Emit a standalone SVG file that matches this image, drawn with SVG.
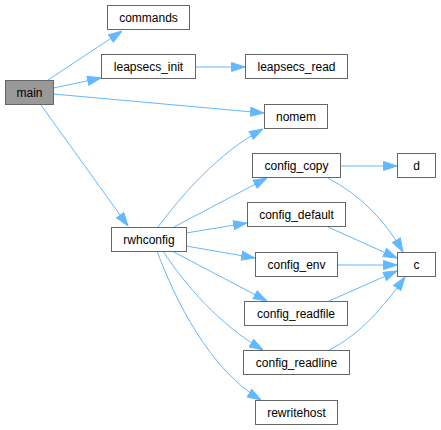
<svg xmlns="http://www.w3.org/2000/svg" width="441" height="430" viewBox="0 0 441 430">
<defs>
<marker id="ah" viewBox="0 0 14 10" refX="14" refY="5" markerWidth="14" markerHeight="10" markerUnits="userSpaceOnUse" orient="auto">
<path d="M0.5,0.5 L14,5 L0.5,9.5 z" fill="#63b8ff" stroke="#63b8ff" stroke-width="1"/>
</marker>
</defs>
<style>
.n rect{fill:#fff;stroke:#666;stroke-width:1}
.n text{font-family:"Liberation Sans",Arial,sans-serif;font-size:12px;fill:#000;text-anchor:middle}
#main rect{fill:#999}
#edges path{fill:none;stroke:#63b8ff;stroke-width:1;marker-end:url(#ah)}
</style>
<rect width="441" height="430" fill="#fff"/>
<g id="edges">
<path d="M48,80 L122,31"/>
<path d="M53,88 L101,78"/>
<path d="M53,94 L264,113"/>
<path d="M41,105 L128,226"/>
<path d="M195,67 L245,67"/>
<path d="M158,227 C182,195 218,153 263,129"/>
<path d="M174,227 L267,178"/>
<path d="M186,233 L247,223"/>
<path d="M186,246 L255,258"/>
<path d="M172,251 L267,301"/>
<path d="M163,251 C185,285 220,325 263,350"/>
<path d="M157,251 C175,300 210,370 261,400"/>
<path d="M340,166 L397,166"/>
<path d="M328,178 C360,195 385,220 403,252"/>
<path d="M328,227 L397,258"/>
<path d="M337,265 L397,265"/>
<path d="M329,301 L397,271"/>
<path d="M329,350 C360,335 385,305 405,277"/>
</g>
<g id="main" class="n"><rect x="5.5" y="80.5" width="48" height="24"/><text x="29.5" y="97">main</text></g>
<g id="commands" class="n"><rect x="107.5" y="5.5" width="82" height="24"/><text x="148.5" y="22">commands</text></g>
<g id="leapsecs_init" class="n"><rect x="101.5" y="54.5" width="94" height="24"/><text x="148.5" y="71">leapsecs_init</text></g>
<g id="leapsecs_read" class="n"><rect x="245.5" y="54.5" width="102" height="24"/><text x="296.5" y="71">leapsecs_read</text></g>
<g id="nomem" class="n"><rect x="264.5" y="104.5" width="63" height="24"/><text x="296" y="121">nomem</text></g>
<g id="config_copy" class="n"><rect x="252.5" y="153.5" width="88" height="24"/><text x="296.5" y="170">config_copy</text></g>
<g id="d" class="n"><rect x="397.5" y="153.5" width="38" height="24"/><text x="416.5" y="170">d</text></g>
<g id="config_default" class="n"><rect x="247.5" y="202.5" width="98" height="24"/><text x="296.5" y="219">config_default</text></g>
<g id="rwhconfig" class="n"><rect x="111.5" y="227.5" width="75" height="24"/><text x="149" y="244">rwhconfig</text></g>
<g id="config_env" class="n"><rect x="255.5" y="252.5" width="82" height="24"/><text x="296.5" y="269">config_env</text></g>
<g id="c" class="n"><rect x="397.5" y="252.5" width="38" height="24"/><text x="416.5" y="269">c</text></g>
<g id="config_readfile" class="n"><rect x="244.5" y="301.5" width="103" height="24"/><text x="296" y="318">config_readfile</text></g>
<g id="config_readline" class="n"><rect x="243.5" y="350.5" width="106" height="24"/><text x="296.5" y="367">config_readline</text></g>
<g id="rewritehost" class="n"><rect x="255.5" y="400.5" width="82" height="24"/><text x="296.5" y="417">rewritehost</text></g>
</svg>
